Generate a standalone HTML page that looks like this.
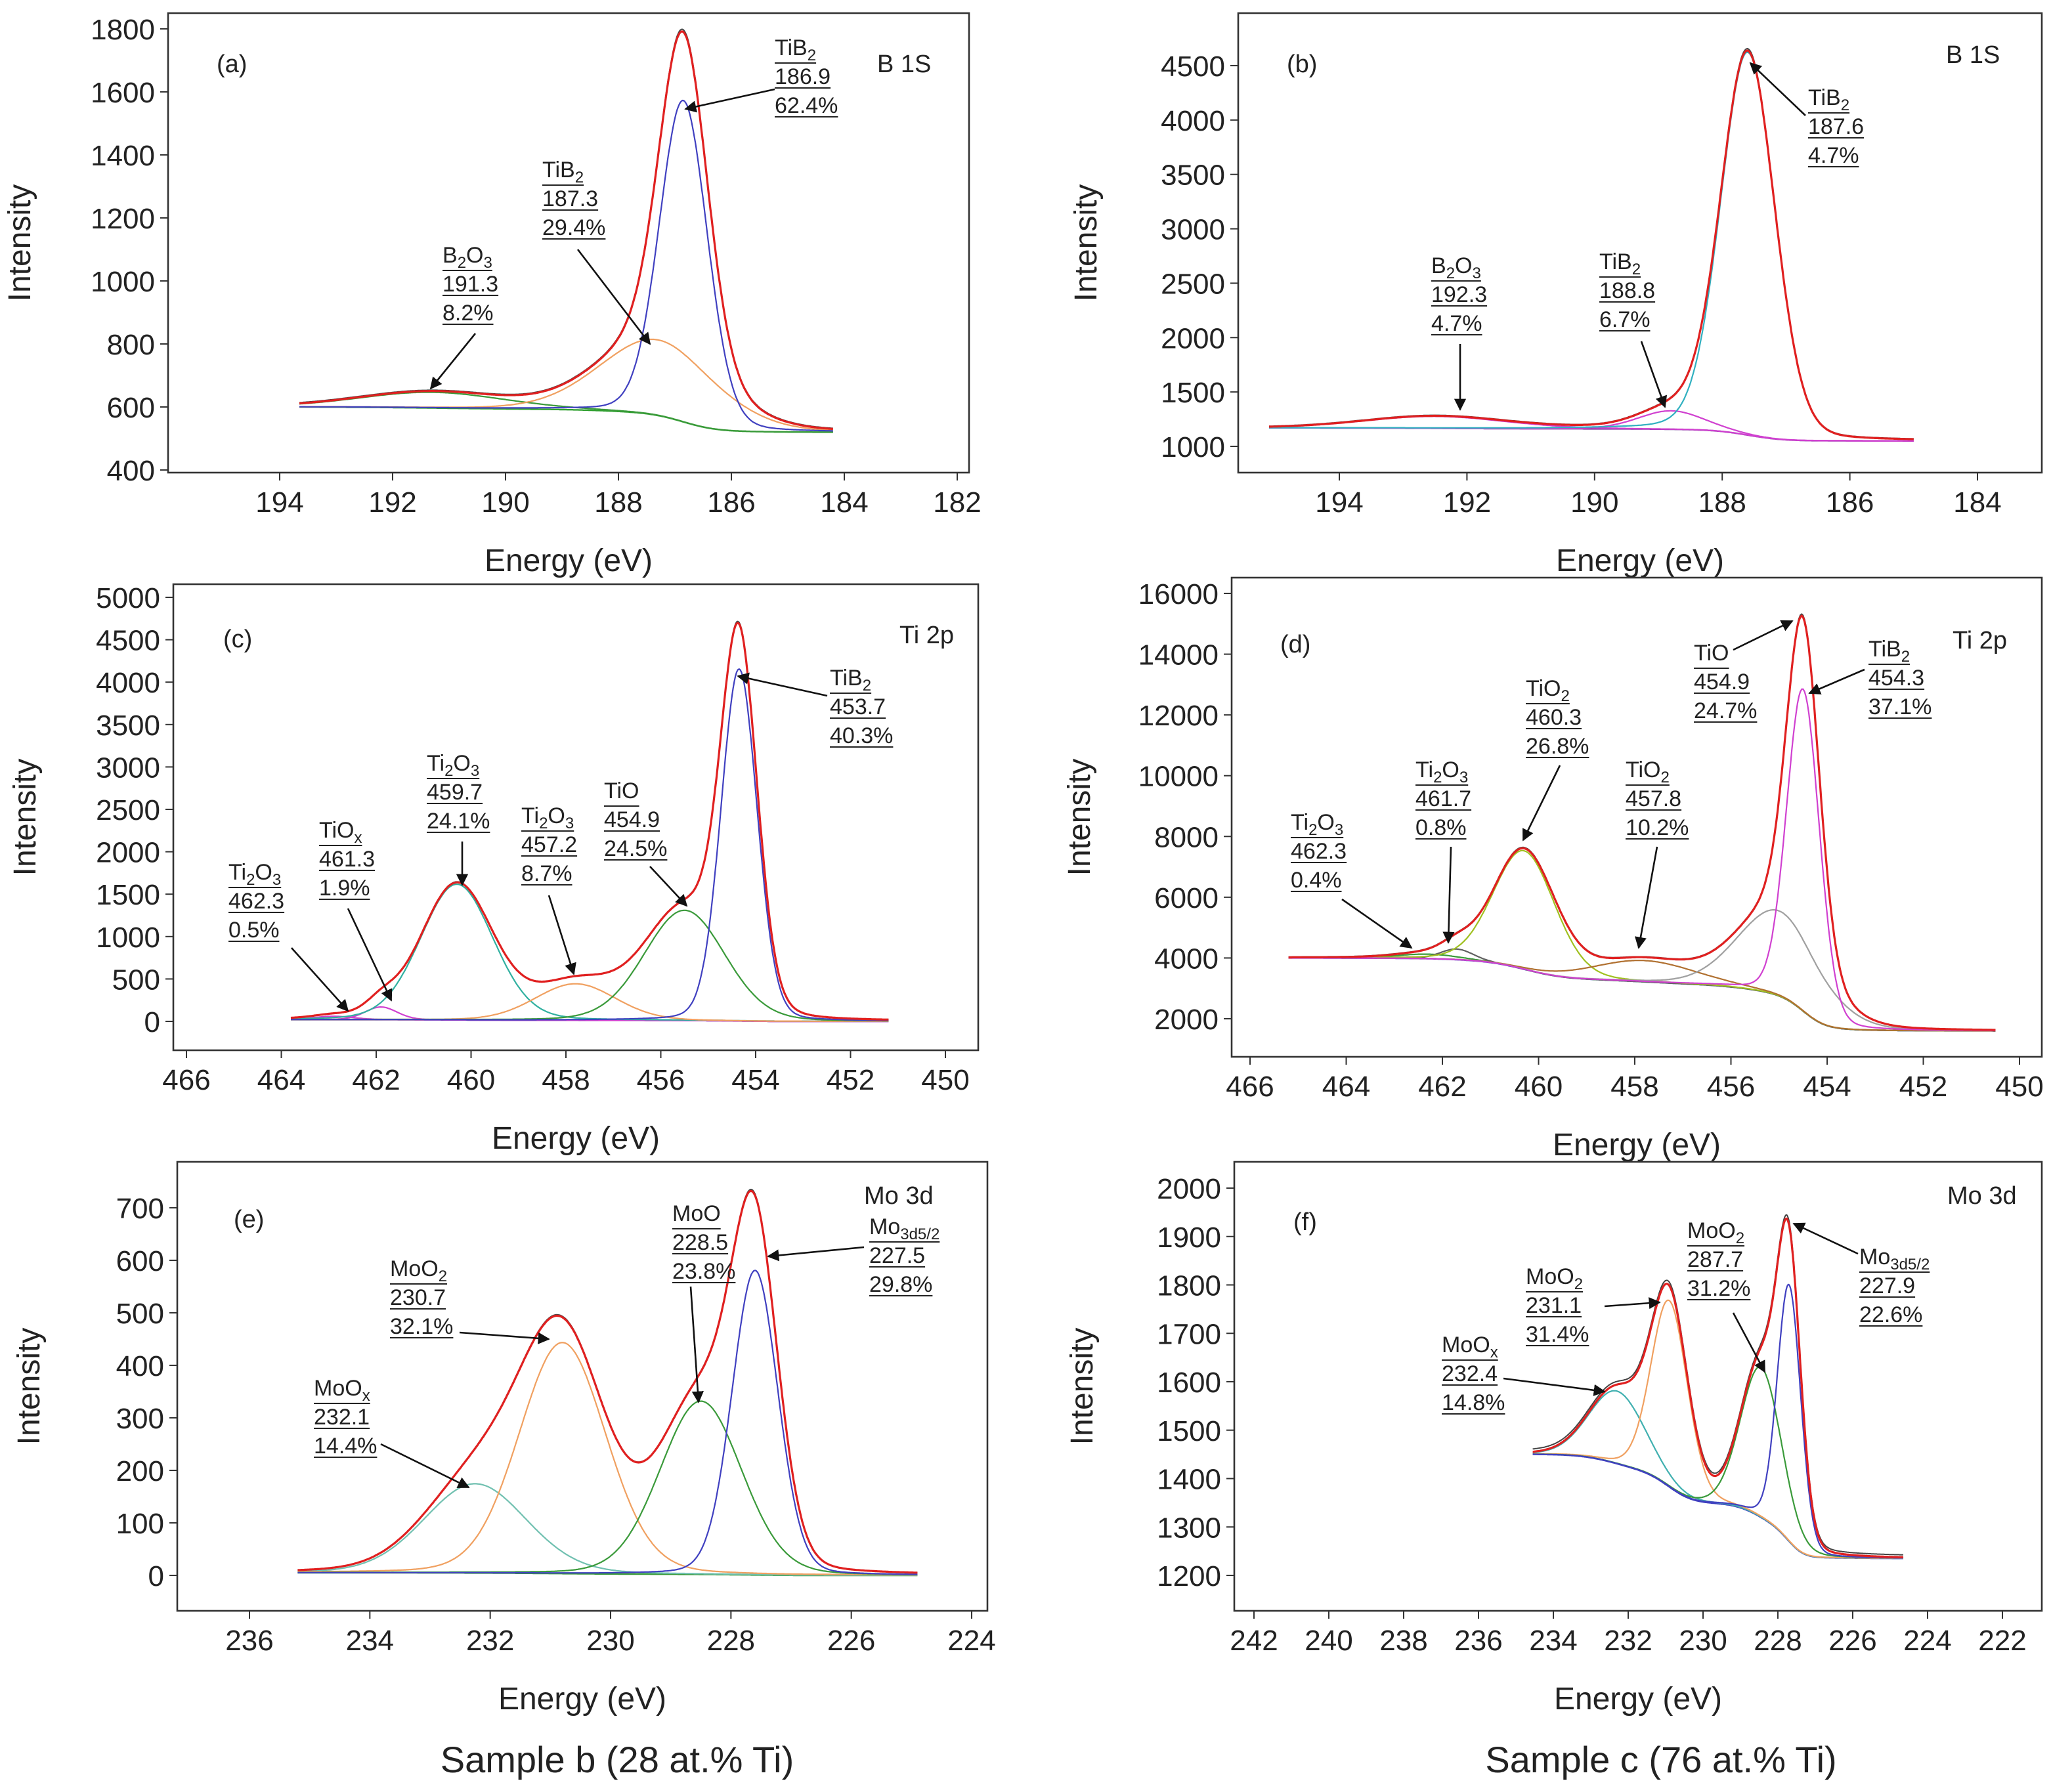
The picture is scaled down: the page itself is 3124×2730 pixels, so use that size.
<!DOCTYPE html>
<html><head><meta charset="utf-8">
<style>
html,body{margin:0;padding:0;background:#fff;}
svg{display:block;}
text{font-family:"Liberation Sans",Arial,sans-serif;fill:#222;}
</style></head>
<body>
<svg id="chart" width="3124" height="2730" viewBox="0 0 1562 1365" xmlns="http://www.w3.org/2000/svg">
<defs><marker id="ah" viewBox="0 0 10 10" refX="9" refY="5" markerWidth="7" markerHeight="7" orient="auto-start-reverse"><path d="M0,0 L10,5 L0,10 z" fill="#111"/></marker></defs>
<text x="470" y="1350" font-size="28" text-anchor="middle">Sample b (28 at.% Ti)</text>
<text x="1265" y="1350" font-size="28" text-anchor="middle">Sample c (76 at.% Ti)</text>
</svg>
<script>
// ---- data ----
const aCenters=[191.3,187.3,186.85];
const aHeights=[50,240,1020];
const aWidths=[3.0,2.4,1.0];
const aBgLR=[600,520];
const aRange=[193.65,184.2];
const aXTicks=[194,192,190,188,186,184,182];
const aYTicks=[400,600,800,1000,1200,1400,1600,1800];

const bCenters=[192.5,188.8,187.6];
const bHeights=[110,170,3520];
const bWidths=[2.6,1.2,1.0];
const bBgLR=[1170,1050];
const bRange=[195.1,185.0];
const bXTicks=[194,192,190,188,186,184];
const bYTicks=[1000,1500,2000,2500,3000,3500,4000,4500];

const cCenters=[462.9,461.9,460.3,457.8,455.5,454.35];
const cHeights=[40,150,1600,430,1300,4150];
const cWidths=[1.0,0.8,1.8,2.0,2.0,0.9];
const cBgLR=[20,0];
const cRange=[463.8,451.2];
const cXTicks=[466,464,462,460,458,456,454,452,450];
const cYTicks=[0,500,1000,1500,2000,2500,3000,3500,4000,4500,5000];

const dCenters=[462.3,461.7,460.3,457.8,455.0,454.5];
const dHeights=[150,350,3900,700,2800,10600];
const dWidths=[1.5,0.8,1.5,2.5,2.0,0.8];
const dBgLR=[4000,1600];
const dRange=[465.2,450.5];
const dXTicks=[466,464,462,460,458,456,454,452,450];
const dYTicks=[2000,4000,6000,8000,10000,12000,14000,16000];

const eCenters=[232.25,230.8,228.5,227.6];
const eHeights=[170,440,330,580];
const eWidths=[2.0,1.7,1.6,0.9];
const eBgLR=[5,0];
const eRange=[235.2,224.9];
const eXTicks=[236,234,232,230,228,226,224];
const eYTicks=[0,100,200,300,400,500,600,700];

const fCenters=[232.3,230.9,228.45,227.7];
const fHeights=[150,385,310,530];
const fWidths=[1.75,1.15,1.28,0.74];
const fBgLR=[1450,1235];
const fRange=[234.55,224.65];
const fXTicks=[242,240,238,236,234,232,230,228,226,224,222];
const fYTicks=[1200,1300,1400,1500,1600,1700,1800,1900,2000];

// ---- layout ----
const NS="http://www.w3.org/2000/svg";
const svg=document.getElementById('chart');
function el(tag,attrs,parent){const e=document.createElementNS(NS,tag);for(const k in attrs)e.setAttribute(k,attrs[k]);(parent||svg).appendChild(e);return e;}

const panels=[
 {id:'a',c:aCenters,h:aHeights,w:aWidths,bg:aBgLR,r:aRange,xt:aXTicks,yt:aYTicks,box:[128,10,738,360],xm:[194,213,182,729],ym:[1800,22,400,358],cols:['#3a9a3a','#f0a060','#4040c0'],bgc:'#30a030'},
 {id:'b',c:bCenters,h:bHeights,w:bWidths,bg:bBgLR,r:bRange,xt:bXTicks,yt:bYTicks,box:[943,10,1555,360],xm:[194,1020,184,1506],ym:[4500,50,1000,340],cols:['#d040d0','#d040d0','#30b0c0'],bgc:'#8040a0'},
 {id:'c',c:cCenters,h:cHeights,w:cWidths,bg:cBgLR,r:cRange,xt:cXTicks,yt:cYTicks,box:[132,445,745,800],xm:[466,142,450,720],ym:[5000,455,0,778],cols:['#d040d0','#d040d0','#30b0a0','#f0a060','#3a9a3a','#4040c0'],bgc:'#8040a0'},
 {id:'d',c:dCenters,h:dHeights,w:dWidths,bg:dBgLR,r:dRange,xt:dXTicks,yt:dYTicks,box:[938,440,1555,805],xm:[466,952,450,1538],ym:[16000,452,2000,776],cols:['#3a9a3a','#606060','#a0c020','#b07030','#a0a0a0','#d040d0'],bgc:'#4040c0'},
 {id:'e',c:eCenters,h:eHeights,w:eWidths,bg:eBgLR,r:eRange,xt:eXTicks,yt:eYTicks,box:[135,885,752,1227],xm:[236,190,224,740],ym:[700,920,0,1200],cols:['#70c0b0','#f0a060','#3a9a3a','#4040c0'],bgc:'#3a9a3a'},
 {id:'f',c:fCenters,h:fHeights,w:fWidths,bg:fBgLR,r:fRange,xt:fXTicks,yt:fYTicks,box:[940,885,1555,1227],xm:[242,955,222,1525],ym:[2000,905,1200,1200],cols:['#40b0b0','#f0a060','#3a9a3a','#4040c0'],bgc:'#4040c0'}
];

function gl(x,c,h,w){const s=w/2.3548;const g=Math.exp(-(x-c)*(x-c)/(2*s*s));const l=1/(1+4*(x-c)*(x-c)/(w*w));return h*(0.88*g+0.12*l);}

panels.forEach(p=>{
 const g=el('g',{});
 
 
 const [x0,y0,x1,y1]=p.box;
 const X=v=>p.xm[1]+(v-p.xm[0])*(p.xm[3]-p.xm[1])/(p.xm[2]-p.xm[0]);
 const Y=v=>p.ym[1]+(v-p.ym[0])*(p.ym[3]-p.ym[1])/(p.ym[2]-p.ym[0]);
 const fr=el('rect',{x:x0,y:y0,width:x1-x0,height:y1-y0,fill:'none',stroke:'#333','stroke-width':1.3},g);
 
 
 p.xt.forEach(t=>{const xx=X(t);
  el('line',{x1:xx,x2:xx,y1:y1,y2:y1+6,stroke:'#333'},g);
  const tx=el('text',{x:xx,y:y1+30,'font-size':22,'text-anchor':'middle'},g);tx.textContent=t;
  
  });
 p.yt.forEach(t=>{const yy=Y(t);
  el('line',{x1:x0-6,x2:x0,y1:yy,y2:yy,stroke:'#333'},g);
  const tx=el('text',{x:x0-10,y:yy+8,'font-size':22,'text-anchor':'end'},g);tx.textContent=t;
  
  });
 const xt=el('text',{x:(x0+x1)/2,y:y1+75,'font-size':24,'text-anchor':'middle'},g);xt.textContent='Energy (eV)';
 
 
 const yc=(y0+y1)/2, yx=x0-(p.id==='a'||p.id==='c'||p.id==='e'?105:108);
 const ytl=el('text',{x:yx,y:yc,'font-size':24,'text-anchor':'middle',transform:`rotate(-90 ${yx} ${yc})`},g);ytl.textContent='Intensity';
 
 
 const N=500,xs=[];for(let i=0;i<=N;i++)xs.push(p.r[0]+(p.r[1]-p.r[0])*i/N);
 const peakSum=xs.map(x=>p.c.reduce((s,c,k)=>s+gl(x,c,p.h[k],p.w[k]),0));
 const cum=[];let acc=0;for(let i=N;i>=0;i--){acc+=peakSum[i];cum[i]=acc;}
 const bgv=xs.map((x,i)=>p.bg[1]+(p.bg[0]-p.bg[1])*cum[i]/acc);
 const path=arr=>arr.map((v,i)=>(i?'L':'M')+X(xs[i]).toFixed(1)+','+Y(v).toFixed(1)).join('');
 const bl=el('path',{d:path(bgv),fill:'none',stroke:p.bgc,'stroke-width':1.2},g);
 
 
 p.c.forEach((c,k)=>{
  const pk=el('path',{d:path(xs.map((x,i)=>bgv[i]+gl(x,c,p.h[k],p.w[k]))),fill:'none',stroke:p.cols[k],'stroke-width':1.1},g);
  
  
 });
 const tot=xs.map((x,i)=>bgv[i]+peakSum[i]);
 const rd=el('path',{d:path(tot.map(v=>v*1.004)),fill:'none',stroke:'#444','stroke-width':1},g);
 
 
 const tl=el('path',{d:path(tot),fill:'none',stroke:'#e02020','stroke-width':1.6},g);
 
 
});

const anns=[
 [['TiB_2','186.9','62.4%'],590,42,[590,68],[522,83]],
 [['TiB_2','187.3','29.4%'],413,135,[440,190],[495,262]],
 [['B_2_O_3','191.3','8.2%'],337,200,[362,254],[328,296]],
 [['TiB_2','187.6','4.7%'],1377,80,[1375,88],[1333,48]],
 [['B_2_O_3','192.3','4.7%'],1090,208,[1112,262],[1112,312]],
 [['TiB_2','188.8','6.7%'],1218,205,[1250,260],[1268,310]],
 [['TiB_2','453.7','40.3%'],632,522,[630,530],[562,515]],
 [['TiO','454.9','24.5%'],460,608,[495,660],[523,690]],
 [['Ti_2_O_3','457.2','8.7%'],397,627,[418,682],[437,742]],
 [['Ti_2_O_3','459.7','24.1%'],325,587,[352,641],[352,674]],
 [['TiO_x','461.3','1.9%'],243,638,[265,692],[298,762]],
 [['Ti_2_O_3','462.3','0.5%'],174,670,[222,722],[265,770]],
 [['TiB_2','454.3','37.1%'],1423,500,[1420,510],[1378,528]],
 [['TiO','454.9','24.7%'],1290,503,[1320,495],[1365,473]],
 [['TiO_2','460.3','26.8%'],1162,530,[1188,583],[1160,640]],
 [['TiO_2','457.8','10.2%'],1238,592,[1262,645],[1248,722]],
 [['Ti_2_O_3','461.7','0.8%'],1078,592,[1105,645],[1103,718]],
 [['Ti_2_O_3','462.3','0.4%'],983,632,[1022,685],[1075,722]],
 [['Mo_3d5/2','227.5','29.8%'],662,940,[658,950],[585,957]],
 [['MoO','228.5','23.8%'],512,930,[526,980],[532,1068]],
 [['MoO_2','230.7','32.1%'],297,972,[350,1015],[418,1020]],
 [['MoO_x','232.1','14.4%'],239,1063,[290,1100],[357,1133]],
 [['Mo_3d5/2','227.9','22.6%'],1416,963,[1415,955],[1366,932]],
 [['MoO_2','287.7','31.2%'],1285,943,[1320,1000],[1344,1045]],
 [['MoO_2','231.1','31.4%'],1162,978,[1222,995],[1264,992]],
 [['MoO_x','232.4','14.8%'],1098,1030,[1145,1050],[1222,1060]]
];
anns.forEach(a=>{
 const g=el('g',{});
 
 
 a[0].forEach((s,i)=>{
  const y=a[2]+i*22;
  const t=el('text',{x:a[1],y:y,'font-size':17},g);
  s.split('_').forEach((part,j)=>{const ts=el('tspan',j%2?{'font-size':12,dy:4}:(j>0?{dy:-4}:{}),t);ts.textContent=part;});
  const w=t.getComputedTextLength();
  el('line',{x1:a[1],x2:a[1]+w,y1:y+(i===0?6:3),y2:y+(i===0?6:3),stroke:'#222','stroke-width':1},g);
 });
 el('line',{x1:a[3][0],y1:a[3][1],x2:a[4][0],y2:a[4][1],stroke:'#111','stroke-width':1.3,'marker-end':'url(#ah)'},g);
});
const labels=[['(a)',165,55],['B 1S',668,55],['(b)',980,55],['B 1S',1482,48],['(c)',170,493],['Ti 2p',685,490],['(d)',975,497],['Ti 2p',1487,494],['(e)',178,935],['Mo 3d',658,917],['(f)',985,937],['Mo 3d',1483,917]];
labels.forEach(l=>{const t=el('text',{x:l[1],y:l[2],'font-size':19});t.textContent=l[0];
 
 });
</script>
</body></html>
